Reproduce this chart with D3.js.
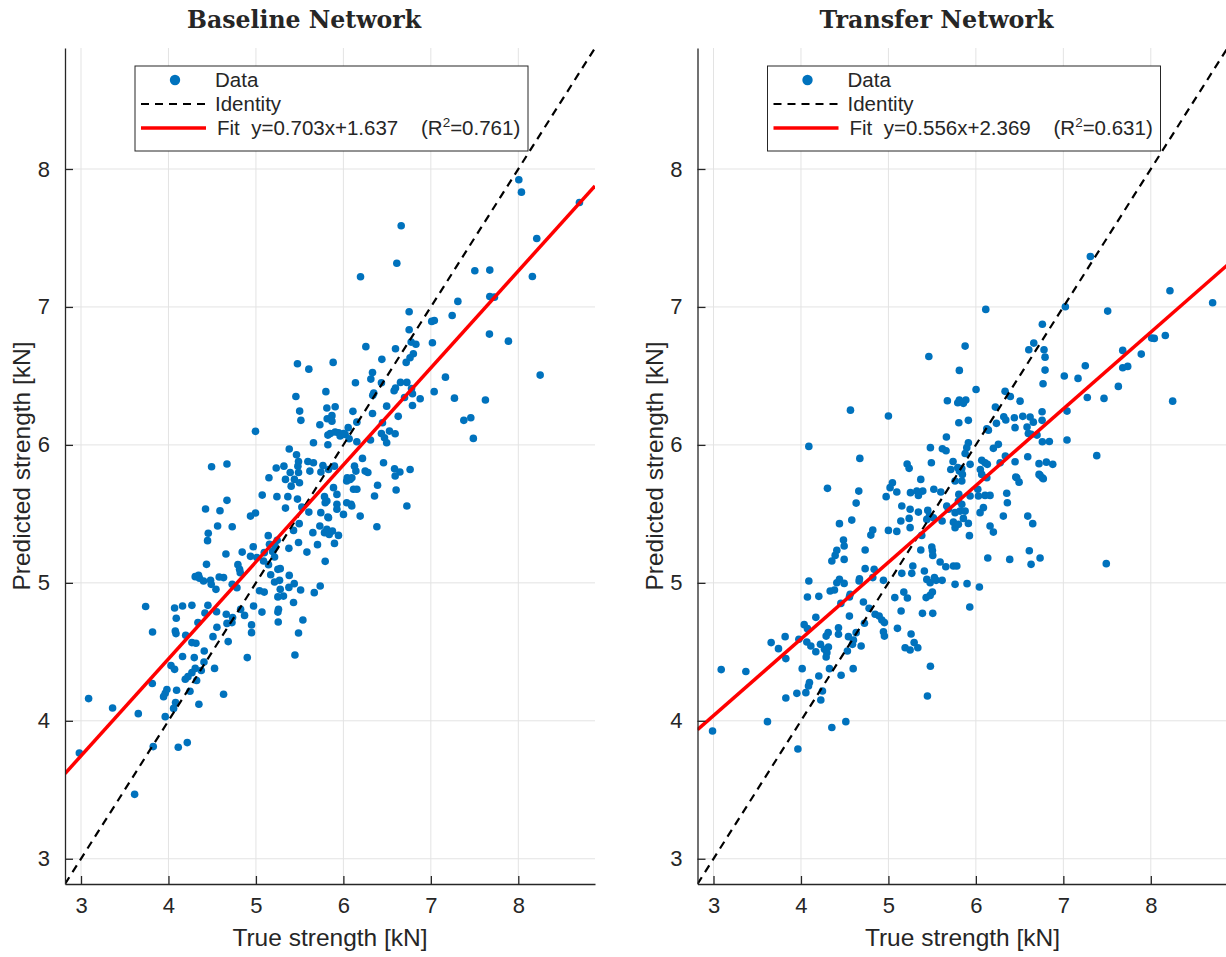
<!DOCTYPE html>
<html>
<head>
<meta charset="utf-8">
<script src="https://cdn.jsdelivr.net/npm/d3@7"></script>
<style>
  body { margin: 0; background: #fff; }
  svg { display: block; }
  text { font-family: "Liberation Sans", Arial, Helvetica, sans-serif; fill: #262626; }
</style>
</head>
<body>
<script>
// axis limits shared by both panels
const limits = [2.817, 8.877];
const ticks = [3, 4, 5, 6, 7, 8];

// fit coefficients as printed in each legend
const baselineFit = { slope: 0.703, icpt: 1.637, r2: "0.761" };
const transferFit = { slope: 0.556, icpt: 2.369, r2: "0.631" };

// [true, predicted] pairs
const baselineData = [
  [5.475,6.588],[5.605,6.549],[5.80,6.386],[5.457,6.351],[5.811,6.267],[5.50,6.245],[5.514,6.178],[5.815,6.19],
  [5.731,6.146],[4.995,6.098],[5.823,6.071],[5.658,6.016],[5.823,6.001],[5.381,5.970],[5.464,5.929],[4.493,5.842],
  [4.669,5.861],[5.487,5.880],[5.594,5.88],[5.658,5.871],[5.232,5.832],[5.32,5.846],[5.48,5.846],[5.766,5.851],
  [5.392,5.80],[5.487,5.80],[5.617,5.81],[5.743,5.803],[5.149,5.762],[5.338,5.75],[5.44,5.75],
  [8.006,7.922],[8.036,7.832],[8.699,7.757],[6.661,7.588],[8.211,7.496],[6.611,7.317],[6.196,7.219],[7.503,7.262],
  [7.674,7.267],[8.161,7.221],[7.309,7.04],[7.674,7.076],[7.727,7.071],[6.752,6.965],[7.244,6.938],[7.01,6.895],
  [7.04,6.902],[6.752,6.835],[6.775,6.745],[6.829,6.730],[7.018,6.74],[7.67,6.803],[7.887,6.752],[6.257,6.712],
  [6.596,6.697],[6.80,6.661],[6.762,6.632],[6.718,6.598],[5.883,6.598],[6.44,6.62],[6.333,6.525],[6.314,6.477],
  [6.138,6.451],[6.435,6.451],[6.653,6.453],[6.726,6.453],[6.596,6.412],[6.58,6.393],[6.779,6.409],[6.79,6.371],
  [6.347,6.375],[6.336,6.359],[6.699,6.344],[6.878,6.335],[7.167,6.491],[7.038,6.386],[7.27,6.339],[7.624,6.325],
  [8.25,6.506],[6.495,6.281],[6.79,6.286],[6.333,6.228],[6.109,6.243],[6.627,6.207],[7.377,6.178],[7.457,6.197],
  [7.486,6.047],[6.447,6.161],[6.154,6.165],[6.055,6.125],[6.001,6.083],[6.066,6.045],[6.435,6.083],[6.47,6.052],
  [6.495,6.016],[6.527,6.1],[6.592,6.081],[6.31,6.035],[6.154,6.023],[5.906,6.277],[5.869,6.212],[5.869,6.172],
  [5.945,6.088],[5.85,6.083],[5.906,6.093],[5.963,6.064],[6.02,6.076],[5.898,5.846],[5.83,5.822],[6.218,5.902],
  [6.127,5.846],[6.143,5.81],[6.249,5.81],[6.28,5.80],[6.459,5.871],[6.585,5.827],[6.646,5.803],[6.763,5.822],
  [6.044,5.762],[6.097,5.762],[6.592,5.774],
  [5.403,5.701],[5.498,5.726],[5.072,5.636],[5.24,5.625],[5.365,5.625],[5.475,5.607],[5.784,5.625],[5.792,5.581],
  [4.669,5.598],[4.424,5.535],[4.589,5.523],[5.338,5.542],[5.525,5.549],[5.605,5.513],[5.742,5.509],[5.823,5.477],
  [4.938,5.484],[4.995,5.506],[5.43,5.38],[5.495,5.429],[5.731,5.412],[5.784,5.364],[5.811,5.388],[5.651,5.364],
  [4.562,5.412],[4.729,5.407],[4.455,5.359],[4.447,5.306],[5.141,5.342],[5.243,5.308],[5.487,5.293],[5.704,5.277],
  [5.155,5.279],[5.221,5.262],[4.969,5.262],[5.377,5.25],[4.843,5.223],[4.657,5.209],[4.938,5.192],[5.011,5.183],
  [5.095,5.219],[5.19,5.228],[5.213,5.187],[5.583,5.223],[5.087,5.158],[5.144,5.132],[4.435,5.134],[4.794,5.132],
  [4.813,5.098],[4.821,5.074],[5.251,5.098],[5.278,5.103],[5.169,5.059],[5.381,5.054],[5.438,4.994],[5.735,4.977],
  [4.306,5.045],[4.344,5.054],[4.355,5.033],[4.401,5.013],[4.481,5.018],[4.489,4.989],[4.543,4.953],[4.58,5.042],
  [4.63,5.038],[4.729,4.989],[4.783,4.965],[5.213,5.006],[5.27,5.018],[5.278,4.953],[5.377,4.967],[5.041,4.943],
  [5.095,4.933],[5.511,4.948],[5.667,4.929],[5.251,4.898],[5.315,4.904],[5.43,4.857],[3.739,4.828],[4.07,4.818],
  [4.161,4.832],[4.268,4.837],[4.451,4.837],[4.089,4.743],[4.417,4.781],[4.55,4.791],[4.661,4.772],[4.733,4.748],
  [4.726,4.712],[4.825,4.808],[4.87,4.764],[4.973,4.832],[5.069,4.788],[5.251,4.788],[5.258,4.808],[5.255,4.716],
  [5.537,4.731],[5.487,4.636],[4.95,4.695],[4.95,4.639],[4.669,4.706],[4.554,4.678],[4.337,4.712],[3.818,4.644],
  [4.078,4.651],[4.086,4.632],[4.197,4.62],[4.509,4.61],[4.268,4.567],[4.314,4.562],[4.683,4.574],[4.409,4.506],
  [4.029,4.4],[4.07,4.373],[4.161,4.466],[4.295,4.458],[4.406,4.426],[4.527,4.38],[4.901,4.458],[5.446,4.477],
  [4.306,4.38],[4.268,4.349],[4.223,4.32],[4.192,4.301],[4.375,4.365],[4.322,4.292],[3.815,4.27],[3.982,4.227],
  [3.963,4.2],[3.944,4.175],[4.093,4.221],[4.246,4.214],[4.63,4.192],[3.087,4.161],[3.361,4.093],[3.655,4.052],
  [4.059,4.09],[4.081,4.132],[4.348,4.12],[3.963,4.03],[3.826,3.813],[4.112,3.808],[4.215,3.842],[2.981,3.767],
  [3.613,3.467],
  [6.038,5.738],[6.077,5.75],[5.887,5.69],[5.811,5.593],[5.926,5.641],[6.116,5.678],[6.154,5.678],[6.391,5.707],
  [6.356,5.629],[6.603,5.673],[6.038,5.581],[6.088,5.569],[6.096,5.557],[5.926,5.569],[5.926,5.533],[6.726,5.557],
  [5.83,5.472],[6.001,5.496],[6.192,5.484],[6.383,5.407],[5.838,5.351],[5.875,5.375],[5.944,5.344],[5.898,5.286],
  [5.792,5.156]
];

const transferData = [
  [5.462,6.641],[5.811,6.54],[5.674,6.32],[5.793,6.306],[5.811,6.325],[4.566,6.252],[5.0,6.209],[5.805,6.161],
  [5.663,6.057],[4.09,5.989],[5.48,5.98],[5.617,5.972],[5.659,5.958],[4.673,5.902],[5.491,5.871],[5.739,5.88],
  [5.214,5.861],[5.237,5.83],[5.713,5.822],[5.793,5.835],[5.811,5.81],[5.37,5.75],
  [7.309,7.366],[8.219,7.117],[8.707,7.03],[6.113,6.982],[7.023,7.001],[7.507,6.97],[6.76,6.875],[6.662,6.738],
  [6.605,6.69],[6.779,6.69],[6.791,6.636],[5.877,6.716],[6.791,6.542],[6.768,6.443],[7.679,6.685],[7.891,6.658],
  [8.01,6.774],[8.04,6.772],[8.166,6.793],[7.251,6.574],[7.011,6.499],[7.168,6.482],[7.679,6.559],[7.736,6.569],
  [7.629,6.424],[7.274,6.344],[7.465,6.337],[8.25,6.317],[6.002,6.402],[6.334,6.388],[6.394,6.351],[6.505,6.317],
  [5.885,6.325],[5.857,6.301],[6.223,6.274],[6.757,6.24],[7.042,6.245],[5.914,6.178],[6.319,6.204],[6.342,6.18],
  [6.44,6.197],[6.536,6.207],[6.62,6.202],[6.657,6.165],[6.757,6.178],[6.235,6.156],[6.125,6.117],[6.143,6.107],
  [6.448,6.125],[6.585,6.129],[6.6,6.083],[6.631,6.076],[6.699,6.071],[6.76,6.023],[6.84,6.025],[7.042,6.035],
  [5.914,6.016],[5.896,5.98],[5.877,5.938],[6.257,6.004],[6.2,5.975],[6.337,5.919],[6.593,5.914],[7.382,5.922],
  [6.448,5.878],[6.722,5.864],[6.806,5.875],[6.879,5.859],[6.067,5.888],[6.105,5.871],[6.131,5.859],[5.934,5.859],
  [5.839,5.828],[5.846,5.786],[6.051,5.822],[6.067,5.786],[6.277,5.871],[6.456,5.767],[6.722,5.786],[6.76,5.762],
  [6.125,5.762],
  [4.303,5.685],[4.661,5.665],[4.631,5.578],[5.046,5.726],[5.019,5.69],[5.096,5.658],[4.974,5.625],[5.252,5.654],
  [5.325,5.665],[5.343,5.634],[5.393,5.665],[5.519,5.678],[5.599,5.658],[5.762,5.738],[5.805,5.641],[5.153,5.557],
  [5.248,5.533],[5.343,5.513],[5.45,5.525],[5.469,5.484],[5.667,5.557],[5.686,5.533],[5.762,5.509],[5.237,5.467],
  [5.142,5.448],[5.248,5.4],[5.439,5.46],[5.514,5.472],[5.614,5.448],[5.743,5.44],[5.762,5.4],[4.581,5.455],
  [4.44,5.429],[5.0,5.38],[5.096,5.373],[4.821,5.383],[4.799,5.346],[5.381,5.344],[4.486,5.31],[4.494,5.267],
  [4.41,5.236],[4.391,5.199],[4.353,5.158],[4.494,5.17],[4.734,5.238],[5.37,5.238],[5.496,5.259],[5.503,5.235],
  [5.507,5.199],[5.591,5.151],[5.656,5.117],[5.743,5.122],[5.782,5.122],[5.279,5.122],[5.267,5.069],[5.153,5.069],
  [5.411,5.086],[4.734,5.103],[4.837,5.098],[4.821,5.038],[4.943,5.018],[4.669,5.03],[4.665,5.013],[4.44,5.025],
  [4.41,5.001],[4.494,4.996],[4.334,4.941],[4.383,4.948],[4.09,5.013],[4.074,4.897],[4.204,4.902],[4.562,4.917],
  [4.554,4.897],[5.439,5.025],[5.477,5.001],[5.526,5.038],[5.545,5.018],[5.614,5.018],[5.762,4.989],[5.503,4.933],
  [5.477,4.909],[5.431,4.893],[5.073,4.893],[5.176,4.933],[5.217,4.89],[4.714,4.861],[4.456,4.851],[4.779,4.815],
  [4.848,4.772],[4.894,4.759],[4.925,4.73],[4.954,4.712],[5.145,4.796],[5.389,4.779],[5.507,4.779],[4.554,4.759],
  [4.17,4.75],[4.037,4.697],[4.074,4.668],[4.429,4.675],[4.429,4.627],[4.726,4.707],[4.943,4.646],[4.954,4.614],
  [5.103,4.67],[5.259,4.629],[4.311,4.639],[4.288,4.614],[4.631,4.639],[4.543,4.61],[3.819,4.61],[3.659,4.567],
  [3.743,4.523],[3.827,4.451],[3.976,4.591],[4.067,4.571],[4.113,4.542],[4.17,4.501],[4.223,4.554],[4.269,4.518],
  [4.296,4.494],[4.288,4.462],[4.314,4.535],[4.6,4.586],[4.589,4.554],[4.531,4.506],[4.688,4.542],[5.191,4.53],
  [5.248,4.513],[5.294,4.567],[5.336,4.53],[5.48,4.395],[5.446,4.18],[3.088,4.371],[3.37,4.357],[4.014,4.378],
  [4.326,4.378],[4.597,4.378],[4.459,4.33],[4.204,4.325],[4.097,4.277],[4.086,4.252],[4.246,4.216],[4.227,4.151],
  [3.827,4.165],[3.953,4.199],[4.056,4.204],[3.617,3.994],[4.513,3.994],[4.353,3.951],[2.989,3.926],[3.965,3.796],
  [5.839,5.738],[6.467,5.762],[6.494,5.73],[6.734,5.779],[6.771,5.755],[6.022,5.678],[5.934,5.629],[6.029,5.629],
  [6.105,5.634],[6.162,5.634],[6.353,5.649],[6.36,5.581],[5.8,5.593],[5.839,5.569],[5.819,5.52],[5.877,5.52],
  [6.086,5.545],[6.048,5.509],[6.314,5.484],[6.593,5.484],[6.65,5.429],[5.857,5.467],[5.914,5.431],[5.8,5.424],
  [6.162,5.412],[6.2,5.368],[5.926,5.342],[6.611,5.233],[6.136,5.18],[6.387,5.17],[6.631,5.134],[6.734,5.18],
  [7.491,5.139],[5.899,4.994],[6.04,4.970],[5.93,4.825]
];

const width = 1226, height = 957;
const plotTop = 48, plotBottom = 884, plotW = 530;

const svg = d3.select("body").append("svg")
  .attr("width", width)
  .attr("height", height);

function drawPanel(left, title, data, fit, idx) {
  const x = d3.scaleLinear().domain(limits).range([left, left + plotW]);
  const y = d3.scaleLinear().domain(limits).range([plotBottom, plotTop]);
  const g = svg.append("g");

  g.append("clipPath").attr("id", "clip" + idx)
    .append("rect")
    .attr("x", left).attr("y", plotTop)
    .attr("width", plotW).attr("height", plotBottom - plotTop);

  // grid
  g.selectAll(".gx").data(ticks).join("line")
    .attr("class", "gx")
    .attr("x1", d => x(d)).attr("x2", d => x(d))
    .attr("y1", plotTop).attr("y2", plotBottom)
    .attr("stroke", "#e3e3e3").attr("stroke-width", 1);
  g.selectAll(".gy").data(ticks).join("line")
    .attr("class", "gy")
    .attr("y1", d => y(d)).attr("y2", d => y(d))
    .attr("x1", left).attr("x2", left + plotW)
    .attr("stroke", "#e3e3e3").attr("stroke-width", 1);

  // points
  const plot = g.append("g").attr("clip-path", "url(#clip" + idx + ")");
  plot.selectAll("circle").data(data).join("circle")
    .attr("cx", d => x(d[0]))
    .attr("cy", d => y(d[1]))
    .attr("r", 3.8)
    .attr("fill", "#0072bd");

  // identity line
  plot.append("line")
    .attr("x1", x(limits[0])).attr("y1", y(limits[0]))
    .attr("x2", x(limits[1])).attr("y2", y(limits[1]))
    .attr("stroke", "#000").attr("stroke-width", 2.2)
    .attr("stroke-dasharray", "8,6");

  // fit line
  plot.append("line")
    .attr("x1", x(limits[0])).attr("y1", y(fit.slope * limits[0] + fit.icpt))
    .attr("x2", x(limits[1])).attr("y2", y(fit.slope * limits[1] + fit.icpt))
    .attr("stroke", "#ff0000").attr("stroke-width", 3.5);

  // axes
  const fmt = d3.format("d");
  const ax = g.append("g")
    .attr("transform", `translate(0,${plotBottom})`)
    .call(d3.axisBottom(x).tickValues(ticks).tickFormat(fmt).tickSizeInner(-8).tickSizeOuter(0).tickPadding(13));
  const ay = g.append("g")
    .attr("transform", `translate(${left},0)`)
    .call(d3.axisLeft(y).tickValues(ticks).tickFormat(fmt).tickSizeInner(-8).tickSizeOuter(0).tickPadding(15));
  [ax, ay].forEach(a => {
    a.select(".domain").attr("stroke", "#262626").attr("stroke-width", 1.3);
    a.selectAll(".tick line").attr("stroke", "#262626").attr("stroke-width", 1.3);
    a.selectAll(".tick text")
      .style("font-family", '"Liberation Sans", Arial, sans-serif')
      .style("font-size", "22px")
      .attr("fill", "#262626");
  });

  // axis labels
  g.append("text")
    .attr("x", left + plotW / 2).attr("y", 946)
    .attr("text-anchor", "middle")
    .style("font-size", "24.5px")
    .text("True strength [kN]");
  g.append("text")
    .attr("transform", `translate(${left - 35},${(plotTop + plotBottom) / 2}) rotate(-90)`)
    .attr("text-anchor", "middle")
    .style("font-size", "24.5px")
    .text("Predicted strength [kN]");

  // title
  g.append("text")
    .attr("x", left + 239).attr("y", 28)
    .attr("text-anchor", "middle")
    .style("font-family", '"DejaVu Serif", serif')
    .style("font-weight", "bold")
    .style("font-size", "24px")
    .attr("fill", "#000")
    .attr("textLength", 234)
    .attr("lengthAdjust", "spacingAndGlyphs")
    .text(title);

  // legend
  const lx = left + 70, ly = 66;
  const lg = g.append("g");
  lg.append("rect")
    .attr("x", lx).attr("y", ly)
    .attr("width", 393).attr("height", 85)
    .attr("fill", "#fff").attr("stroke", "#262626").attr("stroke-width", 1);
  lg.append("circle")
    .attr("cx", lx + 40).attr("cy", ly + 14).attr("r", 5.2)
    .attr("fill", "#0072bd");
  lg.append("line")
    .attr("x1", lx + 6).attr("x2", lx + 71)
    .attr("y1", ly + 38).attr("y2", ly + 38)
    .attr("stroke", "#000").attr("stroke-width", 2.2)
    .attr("stroke-dasharray", "8,6");
  lg.append("line")
    .attr("x1", lx + 6).attr("x2", lx + 71)
    .attr("y1", ly + 62).attr("y2", ly + 62)
    .attr("stroke", "#ff0000").attr("stroke-width", 3.5);
  const labels = ["Data", "Identity"];
  labels.forEach((t, i) => {
    lg.append("text")
      .attr("x", lx + 80).attr("y", ly + 21 + i * 24)
      .style("font-size", "20.5px")
      .text(t);
  });
  const ft = lg.append("text")
    .attr("x", lx + 82).attr("y", ly + 69)
    .style("font-size", "20.5px")
    .attr("xml:space", "preserve");
  ft.append("tspan").text(`Fit  y=${fit.slope.toFixed(3)}x+${fit.icpt.toFixed(3)}    (R`);
  ft.append("tspan").attr("dy", -8).style("font-size", "13.5px").text("2");
  ft.append("tspan").attr("dy", 8).text(`=${fit.r2})`);
}

drawPanel(65, "Baseline Network", baselineData, baselineFit, 0);
drawPanel(697.5, "Transfer Network", transferData, transferFit, 1);
</script>
</body>
</html>
